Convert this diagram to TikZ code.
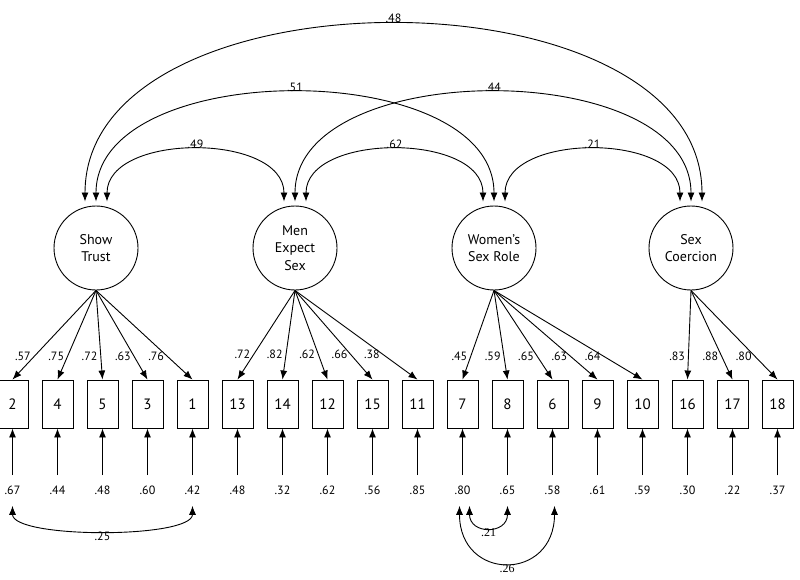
\documentclass[tikz,border=0pt]{standalone}
\usepackage{fontspec}
\setmainfont{PT Sans}
\newfontfamily\timesnum{Liberation Serif}
\usetikzlibrary{arrows.meta}

\begin{document}
\begin{tikzpicture}[x=1pt,y=-1pt,line width=0.9pt,
	>={Latex[length=9pt,width=7pt]},
	lat/.style={circle,draw,minimum size=84pt,inner sep=0pt,align=center,
		font=\fontsize{14}{17.5}\selectfont},
	obs/.style={rectangle,draw,minimum width=31pt,minimum height=48pt,inner sep=0pt,
		font=\fontsize{15}{18}\selectfont},
	num/.style={font=\fontsize{12}{13}\selectfont,inner sep=1pt}]
	\clip (1,0) rectangle (801,580);
	\node[lat] (st) at (97,248) {Show\\Trust};
	\node[lat] (mes) at (296,248) {Men\\Expect\\Sex};
	\node[lat] (wsr) at (495,248) {Women's\\Sex Role};
	\node[lat] (sc) at (692,248) {Sex\\Coercion};
	\foreach \v/\e [count=\i from 0] in {2/.67,4/.44,5/.48,3/.60,1/.42,13/.48,14/.32,12/.62,15/.56,
		11/.85,7/.80,8/.65,6/.58,9/.61,10/.59,16/.30,17/.22,18/.37}{
		\node[obs] (v\v) at (13.5+45*\i,404) {\v};
		\node[num] (e\v) at (13.5+45*\i,490) {\e};
		\draw[->,shorten <=9pt] (e\v) -- (v\v);
	}
	\foreach \v/\l in {2/.57,4/.75,5/.72,3/.63,1/.76}
		\draw[->] (st.south) -- node[num,pos=.74,left=2pt] {\l} (v\v.north);
	\foreach \v/\l in {13/.72,14/.82,12/.62,15/.66,11/.38}
		\draw[->] (mes.south) -- node[num,pos=.72,left=2pt] {\l} (v\v.north);
	\foreach \v/\l in {7/.45,8/.59,6/.65,9/.63,10/.64}
		\draw[->] (wsr.south) -- node[num,pos=.74,left=2pt] {\l} (v\v.north);
	\foreach \v/\l in {16/.83,17/.88,18/.80}
		\draw[->] (sc.south) -- node[num,pos=.74,left=2pt] {\l} (v\v.north);
	\foreach \f in {st,mes,wsr,sc}{
		\coordinate (\f-a) at ([shift={(-11,-4)}]\f.north);
		\coordinate (\f-b) at ([shift={(0,-4)}]\f.north);
		\coordinate (\f-c) at ([shift={(11,-4)}]\f.north);
	}
	\draw[<->] (st-c) .. controls +(0,-69) and +(0,-69) .. (mes-a) node[num,midway,above] {.49};
	\draw[<->] (mes-c) .. controls +(0,-69) and +(0,-69) .. (wsr-a) node[num,midway,above] {.62};
	\draw[<->] (wsr-c) .. controls +(0,-69) and +(0,-69) .. (sc-a) node[num,midway,above] {.21};
	\draw[<->] (st-b) .. controls +(0,-145) and +(0,-145) .. (wsr-b) node[num,midway,above] {.51};
	\draw[<->] (mes-b) .. controls +(0,-145) and +(0,-145) .. (sc-b) node[num,midway,above] {.44};
	\draw[<->] (st-a) .. controls +(0,-236) and +(0,-236) .. (sc-c) node[num,midway,above] {.48};
	\draw[<->] ([yshift=-10pt]e2.south) .. controls +(0,33) and +(0,33) .. ([yshift=-10pt]e1.south)
		node[num,midway,below] {.25};
	\draw[<->] ([shift={(7,10)}]e7.south) .. controls +(0,29) and +(0,29) .. ([shift={(0,10)}]e8.south)
		node[num,midway,below,font=\timesnum\fontsize{12}{13}\selectfont] {.21};
	\draw[<->] ([shift={(-3,10)}]e7.south) .. controls +(0,76) and +(0,76) .. ([shift={(2,10)}]e6.south)
		node[num,midway,below,font=\timesnum\fontsize{12}{13}\selectfont] {.26};
\end{tikzpicture}
\end{document}
